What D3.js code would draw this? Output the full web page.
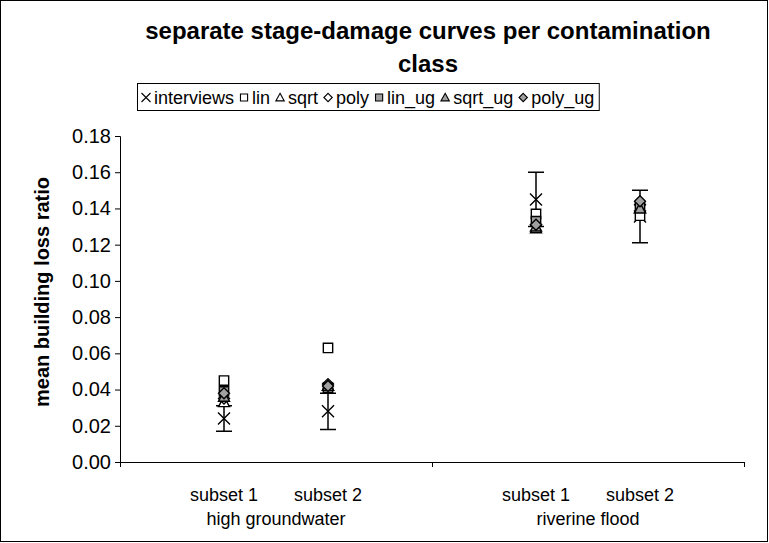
<!DOCTYPE html>
<html><head><meta charset="utf-8">
<script src="https://cdn.jsdelivr.net/npm/d3@7"></script>
<style>body{margin:0;background:#fff}svg{display:block}text{font-family:"Liberation Sans",Arial,sans-serif}</style>
</head><body>
<script>
// ---- data ----
const subsets = ["subset 1", "subset 2", "subset 1", "subset 2"];
const xPos = [1, 2, 4, 5];
const groups = ["high groundwater", "riverine flood"];
const groupPos = [1.5, 4.5];
const interviews = [0.024, 0.028, 0.145, 0.1355];
const errLow = [0.017, 0.018, 0.130, 0.121];
const errHigh = [0.031, 0.038, 0.160, 0.150];
const lin = [0.045, 0.063, 0.137, 0.136];
const sqrt = [0.033, 0.042, 0.129, 0.140];
const poly = [0.035, 0.043, 0.131, 0.142];
const lin_ug = [0.039, 0.041, 0.133, 0.141];
const sqrt_ug = [0.036, 0.042, 0.130, 0.140];
const poly_ug = [0.038, 0.042, 0.131, 0.144];
const yTicks = [0, 0.02, 0.04, 0.06, 0.08, 0.10, 0.12, 0.14, 0.16, 0.18];
const xTicks = [0, 3, 6];
const seriesNames = ["interviews", "lin", "sqrt", "poly", "lin_ug", "sqrt_ug", "poly_ug"];

const W = 769, H = 543;
const FONT = '"Liberation Sans",Arial,sans-serif';
const svg = d3.select("body").append("svg").attr("width", W).attr("height", H);
svg.append("rect").attr("x", 0.5).attr("y", 0.5).attr("width", W - 2).attr("height", H - 2)
  .attr("fill", "#fff").attr("stroke", "#000");

const x = d3.scaleLinear().domain([0, 6]).range([120, 744]);
const y = d3.scaleLinear().domain([0, 0.18]).range([462, 136]);

// axes
const yAxis = svg.append("g").attr("transform", `translate(${x(0)},0)`)
  .call(d3.axisLeft(y).tickValues(yTicks).tickFormat(d3.format(".2f")).tickSize(5).tickPadding(4));
const xAxis = svg.append("g").attr("transform", `translate(0,${y(0)})`)
  .call(d3.axisBottom(x).tickValues(xTicks).tickFormat("").tickSize(5));
[yAxis, xAxis].forEach(g => {
  g.select(".domain").attr("stroke", "#000").attr("stroke-width", 1);
  g.selectAll(".tick line").attr("stroke", "#000");
  g.selectAll("text").attr("font-size", 20).attr("fill", "#000").attr("font-family", FONT);
});
xAxis.select(".domain").attr("d", `M${x(0)},0.5H${x(6)}`);

// category labels
svg.append("g").selectAll("text").data(subsets).join("text")
  .attr("x", (d, i) => x(xPos[i])).attr("y", 501).attr("text-anchor", "middle")
  .attr("font-size", 18).text(d => d);
svg.append("g").selectAll("text").data(groups).join("text")
  .attr("x", (d, i) => x(groupPos[i])).attr("y", 525).attr("text-anchor", "middle")
  .attr("font-size", 18).text(d => d);

// title
const title = svg.append("text").attr("text-anchor", "middle")
  .attr("font-size", 24).attr("font-weight", "bold");
title.append("tspan").attr("x", 428).attr("y", 39).text("separate stage-damage curves per contamination");
title.append("tspan").attr("x", 428).attr("y", 72).text("class");

// y title
svg.append("text").attr("transform", `translate(49,292) rotate(-90)`)
  .attr("text-anchor", "middle").attr("font-size", 20).attr("font-weight", "bold")
  .text("mean building loss ratio");

// marker drawing
const gray = "#a0a0a0";
function shapePath(type, cx, cy, s) {
  const base = type.replace("_ug", "");
  if (base === "interviews")
    return `M${cx - s},${cy - s}L${cx + s},${cy + s}M${cx - s},${cy + s}L${cx + s},${cy - s}`;
  if (base === "lin") { const h = s * 0.85; return `M${cx - h},${cy - h}H${cx + h}V${cy + h}H${cx - h}Z`; }
  if (base === "sqrt") return `M${cx},${cy - s}L${cx + s},${cy + s * 0.8}H${cx - s}Z`;
  return `M${cx},${cy - s}L${cx + s},${cy}L${cx},${cy + s}L${cx - s},${cy}Z`;
}
function marker(g, type, cx, cy, s, sw) {
  const fill = type === "interviews" ? "none" : (type.endsWith("_ug") ? gray : "#fff");
  g.append("path").attr("d", shapePath(type, cx, cy, s))
    .attr("fill", fill).attr("stroke", "#000").attr("stroke-width", sw);
}

// error bars
const eb = svg.append("g");
xPos.forEach((xv, i) => {
  const cx = x(xv);
  eb.append("path").attr("d",
    `M${cx},${y(errLow[i])}V${y(errHigh[i])}M${cx - 8},${y(errLow[i])}H${cx + 8}M${cx - 8},${y(errHigh[i])}H${cx + 8}`)
    .attr("stroke", "#000").attr("stroke-width", 1.5).attr("fill", "none");
});

const seriesData = { interviews, lin, sqrt, poly, lin_ug, sqrt_ug, poly_ug };
const pts = svg.append("g");
["interviews", "lin", "sqrt", "poly", "lin_ug", "sqrt_ug", "poly_ug"].forEach(name => {
  seriesData[name].forEach((v, i) => marker(pts, name, x(xPos[i]), y(v), name === "interviews" ? 6 : 5.5, 1.4));
});

// legend (sequential layout)
const lg = svg.append("g");
const box = lg.append("rect").attr("x", 137.5).attr("y", 83.5).attr("height", 27)
  .attr("fill", "#fff").attr("stroke", "#000");
let cx = 146;
const ly = 97.5;
seriesNames.forEach(n => {
  marker(lg, n, cx, ly, n === "interviews" ? 4.5 : 4.2, 1.1);
  const t = lg.append("text").attr("x", cx + 8).attr("y", ly + 6.5).attr("font-size", 18).text(n);
  const w = t.node().getComputedTextLength();
  cx = cx + 8 + w + 10;
});
box.attr("width", cx - 10 + 5 - 137.5);
</script>
</body></html>
